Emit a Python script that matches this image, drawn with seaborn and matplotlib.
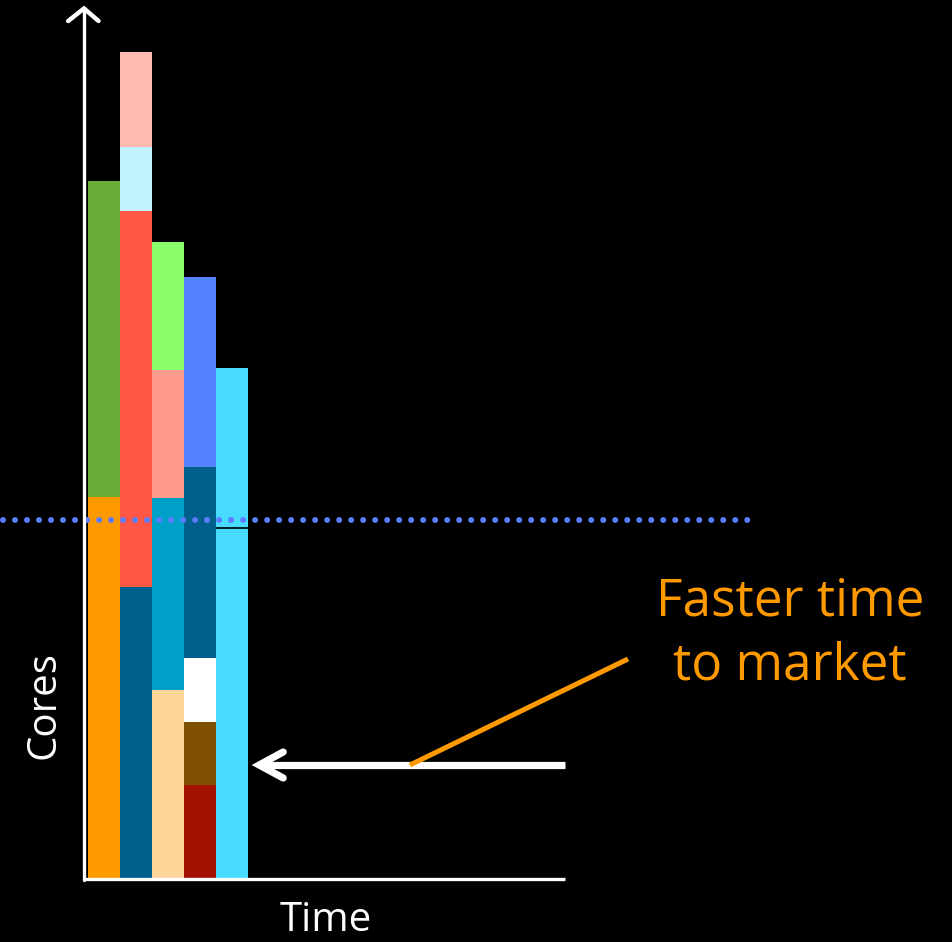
import numpy as np
import pandas as pd
import matplotlib
matplotlib.use("Agg")
import matplotlib.pyplot as plt
import seaborn as sns

# stacked jobs per time slot, bottom to top (cores)
times = ["t1", "t2", "t3", "t4", "t5"]
t1_cores = [38.1, 31.6]
t2_cores = [29.1, 37.6, 6.4, 9.5]
t3_cores = [18.8, 19.2, 12.8, 12.8]
t4_cores = [9.3, 6.3, 6.4, 19.1, 19.0]
t5_cores = [35.0, 16.0]

t1_colors = ["#FF9900", "#6AAE37"]
t2_colors = ["#005F8D", "#FF5745", "#C2F2FF", "#FFBAB2"]
t3_colors = ["#FDD599", "#00A0C8", "#FF9A8F", "#8AFF6A"]
t4_colors = ["#A31200", "#7F5000", "#FFFFFF", "#005F8D", "#5582FF"]
t5_colors = ["#47DCFF", "#47DCFF"]

capacity = 35.8
label_lines = ["Faster time", "to market"]

sns.set_theme(style="white", rc={"figure.facecolor": "black", "axes.facecolor": "black"})
plt.rcParams["font.family"] = ["Open Sans", "DejaVu Sans"]

fig = plt.figure(figsize=(9.52, 9.42), dpi=100)
ax = fig.add_axes([0, 0, 1, 1])

cols = [t1_cores, t2_cores, t3_cores, t4_cores, t5_cores]
cols_c = [t1_colors, t2_colors, t3_colors, t4_colors, t5_colors]
nlev = max(len(c) for c in cols)

# draw cumulative tops from the highest layer down so lower layers overlay
for lev in range(nlev - 1, -1, -1):
    tops = []
    pal = []
    for c, cc in zip(cols, cols_c):
        if lev < len(c):
            tops.append(float(np.sum(c[:lev + 1])))
            pal.append(cc[lev])
        else:
            tops.append(0.0)
            pal.append("#000000")
    df = pd.DataFrame({"time": times, "cores": tops})
    sns.barplot(data=df, x="time", y="cores", hue="time", palette=pal,
                order=times, hue_order=times, width=1.0, saturation=1,
                errorbar=None, legend=False, linewidth=0, ax=ax)

# thin split between the two jobs in the last slot
ax.hlines(t5_cores[0], 3.5, 4.5, color="black", lw=1.2)

# capacity line
ax.plot([-3.15, 20.3], [capacity, capacity], color="#5A7CFF", lw=4.3,
        linestyle=(0, (0.01, 2.0)), dash_capstyle="round", solid_capstyle="round")

ax.set_xlim(-3.25, 26.5)
ax.set_ylim(-6.4, 87.8)
ax.axis("off")

# axes drawn as arrows
ax.plot([-0.625, 14.41], [-0.1, -0.1], color="white", lw=2.4, solid_capstyle="butt")
ax.plot([-0.625, -0.625], [-0.2, 86.9], color="white", lw=2.4)
ax.plot([-1.12, -0.625, -0.17], [85.7, 86.95, 85.7], color="white", lw=3.2,
        solid_capstyle="round", solid_joinstyle="miter")

# white arrow
ax.plot([14.41, 4.85], [11.3, 11.3], color="white", lw=5.2, solid_capstyle="butt")
ax.plot([5.6, 4.85, 5.6], [12.6, 11.3, 10.0], color="white", lw=5.2,
        solid_capstyle="round", solid_joinstyle="miter")

# callout
ax.plot([9.56, 16.375], [11.3, 21.9], color="#FF9900", lw=3.6, solid_capstyle="butt")
ax.text(21.44, 26.2, label_lines[0], color="#FF9900", fontsize=37, ha="center",
        va="baseline")
ax.text(21.44, 19.8, label_lines[1], color="#FF9900", fontsize=37, ha="center",
        va="baseline")

fig.text(44 / 952, 1 - 705 / 942, "Cores", color="white", fontsize=29,
         rotation=90, ha="center", va="center")
fig.text(326 / 952, 1 - 931 / 942, "Time", color="white", fontsize=29,
         ha="center", va="baseline")

fig.savefig("out.png", dpi=100, facecolor="black")
